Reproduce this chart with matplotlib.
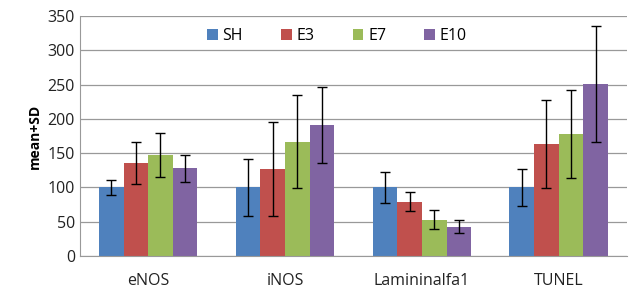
import numpy as np
import matplotlib.pyplot as plt

plt.rcParams['font.family'] = ['Open Sans', 'DejaVu Sans']

categories = ['eNOS', 'iNOS', 'Lamininalfa1', 'TUNEL']
groups = ['SH', 'E3', 'E7', 'E10']
means = {
    'SH': [100, 100, 100, 100],
    'E3': [136, 127, 79, 163],
    'E7': [147, 167, 53, 178],
    'E10': [128, 191, 43, 251],
}
sds = {
    'SH': [11, 41, 23, 27],
    'E3': [31, 69, 14, 64],
    'E7': [32, 68, 14, 64],
    'E10': [20, 55, 9, 84],
}
colors = ['#4F81BD', '#C0504D', '#9BBB59', '#8064A2']

fig = plt.figure(figsize=(6.38, 2.88), dpi=100)
ax = fig.add_axes([0.125, 0.111, 0.858, 0.833])

x = np.arange(len(categories))
w = 0.18
for i, g in enumerate(groups):
    pos = x + (i - 1.5) * w
    ax.bar(pos, means[g], w, color=colors[i], label=g, zorder=2)
    ax.errorbar(pos, means[g], yerr=sds[g], fmt='none', ecolor='black',
                elinewidth=1, capsize=3.5, capthick=1, zorder=3)

ax.set_ylim(0, 350)
ax.set_yticks(range(0, 351, 50))
ax.set_xlim(-0.5, 3.5)
ax.set_xticks(x)
ax.set_xticklabels(categories)
ax.yaxis.grid(True, color='#999999', linewidth=0.9, zorder=0)
ax.set_axisbelow(True)
for s in ['top', 'right']:
    ax.spines[s].set_visible(False)
ax.spines['left'].set_color('#999999')
ax.spines['bottom'].set_color('#999999')
ax.tick_params(axis='both', length=0, labelsize=11.5, colors='#222222')
ax.tick_params(axis='x', pad=12)
ax.set_ylabel('mean+SD', fontsize=10, fontweight='bold', labelpad=4)

ax.legend(loc='upper center', bbox_to_anchor=(0.47, 1.01), ncol=4, frameon=False,
          fontsize=11.5, handlelength=0.65, handleheight=0.65, columnspacing=2.4,
          handletextpad=0.3)

fig.savefig('out.png', dpi=100)
